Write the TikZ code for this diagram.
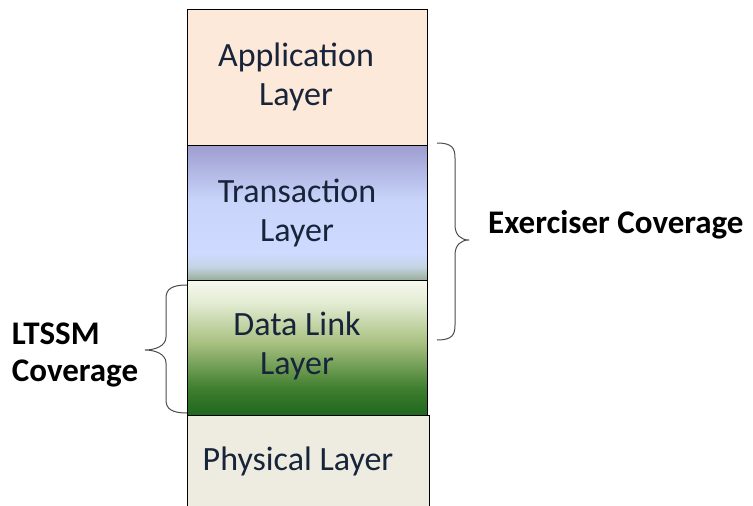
\documentclass[tikz,border=0pt]{standalone}
\usepackage{fontspec}
\setmainfont{Carlito}
\definecolor{appfill}{HTML}{FDE9D9}
\definecolor{physfill}{HTML}{EEECE1}
\definecolor{layertext}{HTML}{17243A}
% Transaction layer: purple-blue top, light blue body, grey-green foot
\pgfdeclareverticalshading{transshade}{100bp}{%
  color(0bp)=(rgb,255:red,150;green,172;blue,150);
  color(25bp)=(rgb,255:red,150;green,172;blue,150);
  color(30bp)=(rgb,255:red,196;green,212;blue,226);
  color(35bp)=(rgb,255:red,206;green,218;blue,255);
  color(55bp)=(rgb,255:red,200;green,212;blue,250);
  color(75bp)=(rgb,255:red,158;green,158;blue,208);
  color(100bp)=(rgb,255:red,158;green,158;blue,208)}
% Data link layer: pale top fading to dark green
\pgfdeclareverticalshading{linkshade}{100bp}{%
  color(0bp)=(rgb,255:red,30;green,102;blue,30);
  color(25bp)=(rgb,255:red,30;green,102;blue,30);
  color(35bp)=(rgb,255:red,62;green,126;blue,46);
  color(52bp)=(rgb,255:red,168;green,192;blue,128);
  color(67bp)=(rgb,255:red,228;green,236;blue,212);
  color(75bp)=(rgb,255:red,246;green,248;blue,238);
  color(100bp)=(rgb,255:red,246;green,248;blue,238)}
\tikzset{
  layerbox/.style={draw=black, line width=1.2pt, minimum width=240pt, inner sep=0pt},
  layerlabel/.style={text=layertext, align=center, inner sep=0pt,
    font=\fontsize{34}{39}\selectfont},
  bracepath/.style={draw=black!70, line width=1pt},
  coverlabel/.style={font=\fontsize{33}{37}\selectfont\bfseries, text=black,
    align=left, inner sep=0pt}
}
\begin{document}
\begin{tikzpicture}[x=1pt, y=-1pt]
\useasboundingbox (0,0) rectangle (753,506);
\fill[white] (0,0) rectangle (753,506);
% layer stack
\node[layerbox, fill=appfill, minimum height=136pt, anchor=north west] (app) at (187,9) {};
\node[layerlabel] (applbl) at (296,77) {Application\\Layer};
\node[layerbox, shading=transshade, minimum height=135pt, anchor=north west] (trans) at (187,145) {};
\node[layerlabel] (translbl) at (297,213) {Transaction\\Layer};
\node[layerbox, shading=linkshade, minimum height=135pt, anchor=north west] (link) at (187,280) {};
\node[layerlabel] (linklbl) at (297,346) {Data Link\\Layer};
\node[layerbox, fill=physfill, minimum width=242pt, minimum height=100pt, anchor=north west] (phys) at (187,415) {};
\node[layerlabel, anchor=base] (physlbl) at (298,470) {Physical Layer};
% right brace spanning transaction and data link layers
\coordinate (rb) at (469,240);
\draw[bracepath] (437,143) .. controls (452,143) and (455,148) .. (455,158)
  -- (455,225) .. controls (455,235) and (461,240) .. (rb)
  .. controls (461,240) and (455,245) .. (455,255)
  -- (455,325) .. controls (455,335) and (452,340) .. (437,340);
\node[coverlabel, anchor=base west] (exer) at (488,233) {Exerciser Coverage};
% left brace spanning the data link layer
\coordinate (lb) at (145,350);
\draw[bracepath] (187,285) .. controls (172,285) and (166,289) .. (166,298)
  -- (166,337) .. controls (166,346) and (155,350) .. (lb)
  .. controls (155,350) and (166,354) .. (166,363)
  -- (166,400) .. controls (166,409) and (172,413) .. (187,413);
\node[coverlabel] (ltssm) at (75,355) {LTSSM\\Coverage};
\end{tikzpicture}
\end{document}
